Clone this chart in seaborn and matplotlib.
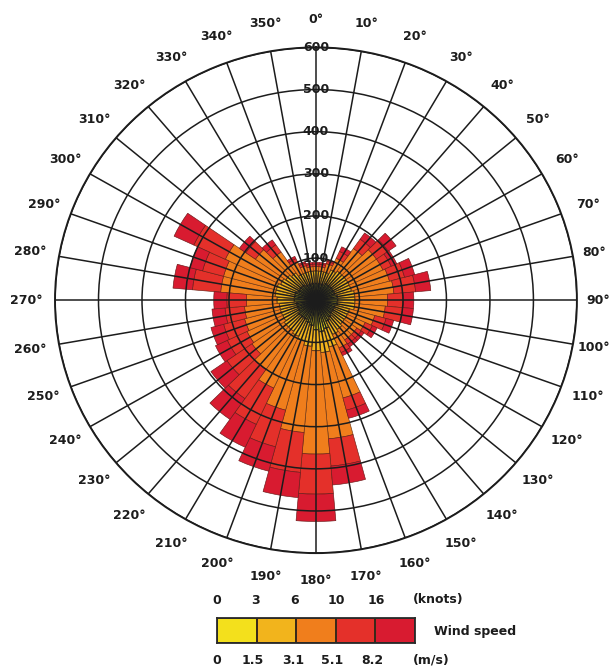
import numpy as np
import pandas as pd
import matplotlib
matplotlib.use("Agg")
import matplotlib.pyplot as plt
from matplotlib.colors import ListedColormap
import seaborn as sns

# ---------------- data ----------------
directions = list(range(0, 360, 10))
# frequency counts per direction for each wind-speed class
speed_0_1_5 = [40, 40, 40, 45, 45, 45, 45, 45, 50, 50, 50, 45, 45, 45, 50, 55, 70, 75,
               70, 60, 55, 50, 50, 50, 45, 45, 45, 50, 50, 50, 45, 45, 45, 40, 40, 40]
speed_1_5_3_1 = [30, 30, 30, 35, 40, 40, 40, 40, 40, 40, 40, 35, 35, 35, 35, 35, 45, 50,
                 50, 50, 45, 45, 40, 40, 40, 40, 40, 40, 45, 45, 45, 40, 35, 30, 30, 30]
speed_3_1_5_1 = [10, 10, 20, 30, 65, 85, 85, 90, 90, 75, 70, 60, 45, 35, 30, 35, 125, 205,
                 245, 205, 170, 135, 110, 90, 90, 85, 80, 70, 125, 125, 140, 85, 60, 30, 15, 10]
speed_5_1_8_2 = [6, 6, 6, 18, 27, 33, 21, 36, 50, 36, 40, 27, 18, 12, 12, 12, 30, 65,
                 95, 95, 90, 95, 85, 70, 50, 50, 45, 45, 65, 50, 80, 27, 21, 9, 6, 6]
speed_8_2_up = [4, 4, 4, 12, 18, 22, 14, 24, 35, 24, 25, 18, 12, 8, 8, 8, 20, 45,
                65, 60, 60, 60, 60, 45, 30, 30, 30, 30, 45, 30, 50, 18, 14, 6, 4, 4]

radial_ticks = [100, 200, 300, 400, 500, 600]
knots_labels = ["0", "3", "6", "10", "16"]
ms_labels = ["0", "1.5", "3.1", "5.1", "8.2"]
speed_classes = [0, 1, 2, 3, 4]

class_colors = ["#F3E01C", "#F2B41C", "#F07E1C", "#E4302A", "#D81B30"]
edge_colors = ["#2a2a20", "#3a2c1c", "#6a3414", "#6a2014", "#6a1818"]
edge_widths = [1.1, 0.9, 0.45, 0.45, 0.45]

df = pd.DataFrame({
    "direction": directions,
    "c1": speed_0_1_5, "c2": speed_1_5_3_1, "c3": speed_3_1_5_1,
    "c4": speed_5_1_8_2, "c5": speed_8_2_up,
})

# ---------------- figure ----------------
sns.set_theme(style="white")
plt.rcParams["font.family"] = ["DejaVu Sans"]

fig = plt.figure(figsize=(6.14, 6.68), dpi=100)
fig.patch.set_facecolor("white")
ax = fig.add_axes([0.0896, 0.172, 0.850, 0.757], projection="polar")
ax.set_aspect("auto")
ax.set_theta_zero_location("N")
ax.set_theta_direction(-1)
ax.set_facecolor("white")

theta = np.deg2rad(df["direction"].to_numpy())
width = np.deg2rad(10)
bottom = np.zeros(len(df))
for col, color, ec, lw in zip(["c1", "c2", "c3", "c4", "c5"], class_colors,
                              edge_colors, edge_widths):
    vals = df[col].to_numpy()
    ax.bar(theta, vals, width=width, bottom=bottom, color=color,
           edgecolor=ec, linewidth=lw, align="center", zorder=1)
    bottom = bottom + vals

ax.set_ylim(0, 600)
ax.set_yticks(radial_ticks)
ax.set_yticklabels([])
ax.set_xticks(np.deg2rad(directions))
ax.set_xticklabels([])
ax.set_axisbelow(False)
ax.grid(True, color="#1c1c1c", linewidth=1.1)
ax.spines["polar"].set_color("#1c1c1c")
ax.spines["polar"].set_linewidth(1.4)

for r in radial_ticks:
    ax.text(0, r, str(r), ha="center", va="center", fontsize=9,
            fontweight="bold", color="#1c1c1c", zorder=6)

for d in directions:
    rr = 650 if d in (80, 90, 100) else 666
    ax.text(np.deg2rad(d), rr, f"{d}°", ha="center", va="center",
            fontsize=9, fontweight="bold", color="#1c1c1c", clip_on=False)

# ---------------- legend ----------------
lax = fig.add_axes([217 / 614, 25 / 668, 198 / 614, 25 / 668])
sns.heatmap(np.array([speed_classes]), cmap=ListedColormap(class_colors),
            cbar=False, linewidths=1.2, linecolor="#3a2a1a", ax=lax,
            xticklabels=False, yticklabels=False)
for sp in lax.spines.values():
    sp.set_visible(True)
    sp.set_color("#2a2a2a")
    sp.set_linewidth(1.3)

knots_x = [217, 256, 295, 336, 376]
ms_x = [217, 253, 293, 332, 372]
for lbl, x in zip(knots_labels, knots_x):
    fig.text(x / 614, 1 - 600 / 668, lbl, ha="center", va="center",
             fontsize=9, fontweight="bold", color="#1c1c1c")
fig.text(413 / 614, 1 - 600 / 668, "(knots)", ha="left", va="center",
         fontsize=9, fontweight="bold", color="#1c1c1c")
for lbl, x in zip(ms_labels, ms_x):
    fig.text(x / 614, 1 - 660 / 668, lbl, ha="center", va="center",
             fontsize=9, fontweight="bold", color="#1c1c1c")
fig.text(413 / 614, 1 - 660 / 668, "(m/s)", ha="left", va="center",
         fontsize=9, fontweight="bold", color="#1c1c1c")
fig.text(434 / 614, 1 - 631 / 668, "Wind speed", ha="left", va="center",
         fontsize=9, fontweight="bold", color="#1c1c1c")

fig.savefig("out.png", dpi=100)
